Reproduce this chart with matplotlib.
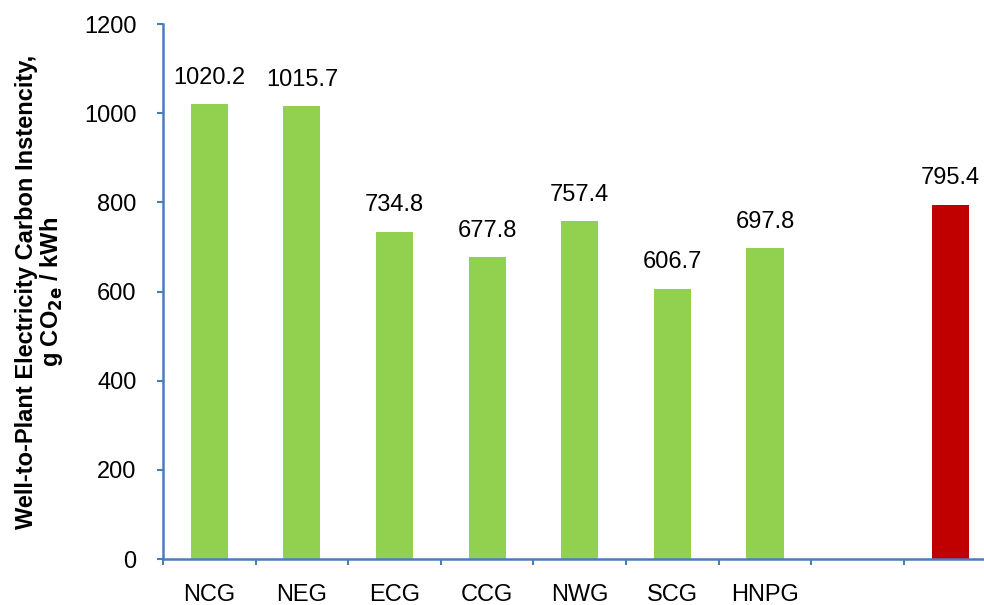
import numpy as np
import matplotlib
matplotlib.use("Agg")
import matplotlib.pyplot as plt
from matplotlib.ticker import FixedLocator

plt.rcParams['font.family'] = ['Liberation Sans', 'DejaVu Sans']

# grid regions (8th slot is empty, 9th is the national figure)
categories = ["NCG", "NEG", "ECG", "CCG", "NWG", "SCG", "HNPG", "", ""]
values = [1020.2, 1015.7, 734.8, 677.8, 757.4, 606.7, 697.8, np.nan, 795.4]
bar_colors = ["#92D050"] * 8 + ["#C00000"]

axis_col = "#4A7EBB"

fig = plt.figure(figsize=(9.84, 6.05), dpi=100)
ax = fig.add_axes([0.1657, 0.076, 0.847, 0.884])

x = np.arange(len(categories))
ax.bar(x, values, width=0.40, color=bar_colors, zorder=2)

for xi, v in zip(x, values):
    if np.isnan(v):
        continue
    ax.annotate(f"{v:.1f}", (xi, v), xytext=(0, 11), textcoords="offset points",
                ha="center", va="bottom", fontsize=17)

ax.set_xlim(-0.5, len(categories) - 0.5)
ax.set_ylim(0, 1200)
ax.set_yticks(np.arange(0, 1201, 200))
ax.tick_params(axis="y", labelsize=17, length=4, width=1.5, color=axis_col, pad=15)

ax.set_xticks(x)
ax.set_xticklabels(categories)
ax.xaxis.set_minor_locator(FixedLocator(np.arange(-0.5, len(categories), 1.0)))
ax.tick_params(axis="x", which="major", length=0, labelsize=17, pad=18)
ax.tick_params(axis="x", which="minor", length=4, width=1.5, color=axis_col)

for s in ["top", "right"]:
    ax.spines[s].set_visible(False)
for s in ["left", "bottom"]:
    ax.spines[s].set_color(axis_col)
    ax.spines[s].set_linewidth(1.8)

ax.set_ylabel("Well-to-Plant Electricity Carbon Instencity,\ng CO$_{\\mathbf{2e}}$ / kWh",
              fontsize=17, fontweight="bold", labelpad=14, linespacing=1.0)

fig.savefig("out.png", dpi=100)
